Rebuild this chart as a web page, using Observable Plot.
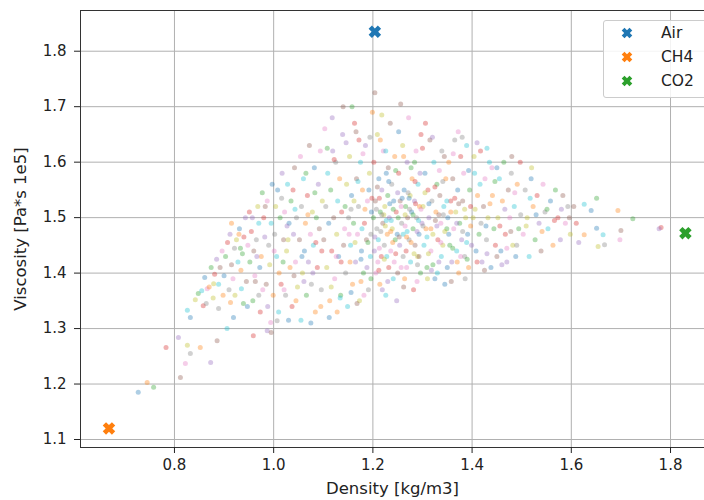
<!DOCTYPE html>
<html>
<head>
<meta charset="utf-8">
<script src="https://cdn.jsdelivr.net/npm/d3@7"></script>
<script src="https://cdn.jsdelivr.net/npm/@observablehq/plot@0.6"></script>
<style>
  html, body { margin: 0; padding: 0; background: #fff; }
  #wrap { position: relative; width: 704px; height: 500px; overflow: hidden; font-family: "DejaVu Sans", sans-serif; }
  #legend { position: absolute; left: 603px; top: 20px; width: 120px; height: 76px; border: 1px solid #cccccc; border-radius: 3px; background: rgba(255,255,255,0.85); font-size: 15.5px; color: #222; }
  .li { position: absolute; left: 0; height: 20px; line-height: 20px; }
  .li svg { position: absolute; left: 16px; top: 3px; }
  .li span { position: absolute; left: 57px; top: 0; white-space: nowrap; }
</style>
</head>
<body>
<div id="wrap"><div id="chart"></div>
<div id="legend"></div></div>
<script>
// Pure gases
const gasNames = ["Air", "CH4", "CO2"];
const gasDensity = [1.204, 0.668, 1.830];
const gasViscosity = [1.835, 1.120, 1.472];
const gasColors = ["#1f77b4", "#ff7f0e", "#2ca02c"];

// Mixture points [density, viscosity]
const mixtures = [
[0.727,1.185],[0.745,1.203],[0.758,1.194],[0.783,1.266],[0.808,1.284],[0.812,1.212],[0.822,1.237],[0.832,1.255],[0.826,1.27],[0.826,1.333],[0.832,1.32],[0.852,1.266],[0.848,1.363],[0.858,1.341],[0.873,1.239],[0.886,1.278],[0.866,1.372],[0.889,1.336],[0.879,1.381],[0.906,1.30],[0.919,1.32],[0.913,1.347],[0.939,1.345],[0.959,1.287],[0.987,1.296],[0.995,1.293],[0.994,1.311],[1.007,1.314],
[0.842,1.352],[0.855,1.368],[0.861,1.392],[0.87,1.375],[0.874,1.41],[0.881,1.398],[0.885,1.425],[0.892,1.41],[0.896,1.44],[0.864,1.345],[0.878,1.355],[0.889,1.38],[0.9,1.395],[0.898,1.36],
[0.903,1.43],[0.907,1.455],[0.912,1.47],[0.915,1.415],[0.918,1.39],[0.921,1.445],[0.925,1.46],[0.928,1.42],[0.931,1.48],[0.934,1.405],[0.937,1.435],[0.94,1.465],[0.943,1.5],[0.945,1.385],[0.948,1.45],[0.91,1.37],[0.922,1.36],[0.935,1.372],[0.947,1.34],[0.93,1.47],
[0.952,1.42],[0.955,1.475],[0.957,1.5],[0.96,1.44],[0.962,1.395],[0.965,1.46],[0.968,1.52],[0.97,1.49],[0.972,1.41],[0.975,1.43],[0.977,1.545],[0.98,1.5],[0.982,1.465],[0.985,1.38],[0.987,1.53],[0.99,1.45],[0.992,1.415],[0.995,1.49],[0.997,1.56],[0.999,1.36],[0.958,1.35],[0.973,1.33],[0.988,1.34],[0.963,1.385],[0.978,1.37],
[1.002,1.47],[1.004,1.52],[1.006,1.43],[1.008,1.55],[1.011,1.4],[1.013,1.5],[1.015,1.38],[1.017,1.58],[1.02,1.46],[1.022,1.51],[1.024,1.36],[1.026,1.44],[1.028,1.56],[1.031,1.49],[1.033,1.41],[1.035,1.53],[1.037,1.34],[1.04,1.47],[1.042,1.59],[1.044,1.42],[1.046,1.5],[1.048,1.375],[1.01,1.33],[1.03,1.315],[1.045,1.35],[1.019,1.42],[1.039,1.55],[1.027,1.485],
[1.052,1.46],[1.054,1.61],[1.056,1.52],[1.058,1.4],[1.06,1.57],[1.062,1.44],[1.064,1.49],[1.066,1.36],[1.068,1.54],[1.07,1.42],[1.072,1.63],[1.074,1.47],[1.076,1.38],[1.078,1.51],[1.08,1.45],[1.082,1.59],[1.084,1.33],[1.086,1.5],[1.088,1.41],[1.09,1.56],[1.092,1.48],[1.094,1.62],[1.096,1.37],[1.098,1.53],[1.055,1.315],[1.075,1.31],[1.095,1.34],[1.065,1.58],[1.085,1.455],[1.079,1.4],
[1.101,1.46],[1.103,1.66],[1.105,1.52],[1.107,1.41],[1.109,1.58],[1.111,1.49],[1.113,1.35],[1.115,1.55],[1.117,1.44],[1.119,1.62],[1.121,1.5],[1.123,1.39],[1.125,1.6],[1.127,1.47],[1.129,1.53],[1.131,1.43],[1.133,1.57],[1.135,1.36],[1.137,1.51],[1.139,1.65],[1.141,1.45],[1.143,1.48],[1.145,1.4],[1.147,1.56],[1.149,1.34],[1.112,1.32],[1.128,1.33],[1.144,1.52],[1.136,1.42],[1.118,1.68],[1.14,1.7],[1.126,1.43],
[1.151,1.5],[1.153,1.61],[1.155,1.45],[1.157,1.54],[1.159,1.38],[1.161,1.49],[1.163,1.67],[1.165,1.42],[1.167,1.57],[1.169,1.47],[1.171,1.52],[1.173,1.35],[1.175,1.6],[1.177,1.44],[1.179,1.55],[1.181,1.4],[1.183,1.49],[1.185,1.63],[1.187,1.46],[1.189,1.53],[1.191,1.37],[1.193,1.58],[1.195,1.43],[1.197,1.51],[1.199,1.69],[1.158,1.7],[1.172,1.64],[1.188,1.41],[1.168,1.345],[1.182,1.36],[1.196,1.47],[1.162,1.53],[1.178,1.48],[1.192,1.55],[1.154,1.42],
[1.201,1.5],[1.202,1.6],[1.203,1.44],[1.205,1.53],[1.206,1.4],[1.208,1.48],[1.209,1.65],[1.211,1.46],[1.212,1.57],[1.214,1.38],[1.215,1.51],[1.217,1.43],[1.218,1.55],[1.22,1.49],[1.221,1.62],[1.223,1.45],[1.224,1.52],[1.226,1.36],[1.227,1.58],[1.229,1.47],[1.23,1.54],[1.232,1.41],[1.233,1.5],[1.235,1.67],[1.236,1.44],[1.238,1.56],[1.239,1.48],[1.241,1.39],[1.242,1.53],[1.244,1.61],[1.245,1.46],[1.247,1.51],[1.248,1.35],[1.204,1.725],[1.21,1.42],[1.216,1.475],[1.222,1.505],[1.228,1.43],[1.234,1.525],[1.24,1.455],[1.246,1.585],[1.213,1.535],[1.219,1.37],[1.231,1.59],[1.243,1.42],[1.207,1.515],[1.225,1.485],[1.237,1.495],[1.249,1.47],[1.215,1.64],
[1.251,1.5],[1.252,1.58],[1.254,1.45],[1.255,1.53],[1.257,1.41],[1.258,1.49],[1.26,1.63],[1.261,1.47],[1.263,1.55],[1.264,1.39],[1.266,1.52],[1.267,1.44],[1.269,1.6],[1.27,1.5],[1.272,1.68],[1.273,1.46],[1.275,1.54],[1.276,1.42],[1.278,1.51],[1.279,1.57],[1.281,1.48],[1.282,1.37],[1.284,1.53],[1.285,1.45],[1.287,1.62],[1.288,1.5],[1.29,1.43],[1.291,1.56],[1.293,1.47],[1.294,1.52],[1.296,1.4],[1.297,1.65],[1.299,1.49],[1.256,1.705],[1.265,1.485],[1.274,1.515],[1.283,1.435],[1.292,1.495],[1.259,1.535],[1.268,1.465],[1.277,1.59],[1.286,1.525],[1.295,1.58],[1.262,1.375],[1.289,1.385],[1.271,1.545],
[1.301,1.52],[1.303,1.45],[1.305,1.58],[1.307,1.48],[1.309,1.41],[1.311,1.55],[1.313,1.5],[1.315,1.64],[1.317,1.44],[1.319,1.53],[1.321,1.47],[1.323,1.6],[1.325,1.39],[1.327,1.51],[1.329,1.56],[1.331,1.46],[1.333,1.42],[1.335,1.54],[1.337,1.49],[1.339,1.62],[1.341,1.45],[1.343,1.52],[1.345,1.38],[1.347,1.57],[1.349,1.48],[1.306,1.67],[1.318,1.405],[1.326,1.495],[1.334,1.585],[1.342,1.505],[1.312,1.435],[1.338,1.43],
[1.351,1.5],[1.353,1.6],[1.355,1.45],[1.357,1.53],[1.359,1.42],[1.361,1.57],[1.363,1.48],[1.365,1.64],[1.367,1.51],[1.369,1.44],[1.371,1.55],[1.373,1.4],[1.375,1.49],[1.377,1.61],[1.379,1.46],[1.381,1.53],[1.383,1.58],[1.385,1.43],[1.387,1.5],[1.389,1.63],[1.391,1.47],[1.393,1.41],[1.395,1.55],[1.397,1.52],[1.399,1.45],[1.358,1.385],[1.372,1.655],[1.386,1.39],
[1.402,1.5],[1.405,1.58],[1.408,1.44],[1.411,1.54],[1.414,1.47],[1.417,1.62],[1.42,1.42],[1.423,1.52],[1.426,1.57],[1.429,1.46],[1.432,1.5],[1.435,1.6],[1.438,1.41],[1.441,1.54],[1.444,1.48],[1.447,1.45],[1.41,1.635],[1.425,1.405],[1.44,1.59],[1.418,1.49],
[1.452,1.5],[1.455,1.57],[1.458,1.44],[1.461,1.53],[1.464,1.6],[1.467,1.47],[1.47,1.42],[1.473,1.55],[1.476,1.5],[1.479,1.58],[1.482,1.45],[1.485,1.52],[1.488,1.43],[1.491,1.56],[1.494,1.48],[1.497,1.6],[1.46,1.415],[1.48,1.61],
[1.503,1.47],[1.507,1.55],[1.511,1.5],[1.515,1.43],[1.519,1.57],[1.523,1.52],[1.527,1.46],[1.531,1.54],[1.535,1.49],[1.539,1.44],[1.543,1.56],[1.547,1.51],[1.52,1.59],
[1.553,1.48],[1.558,1.53],[1.563,1.45],[1.568,1.55],[1.573,1.5],[1.578,1.46],[1.583,1.54],[1.588,1.49],[1.593,1.52],[1.598,1.47],
[1.626,1.524],[1.64,1.513],[1.694,1.513],[1.724,1.498],[1.781,1.482],[1.777,1.48],[1.70,1.477],[1.698,1.46],[1.667,1.451],[1.654,1.448],[1.664,1.469],[1.651,1.481],[1.626,1.469],[1.651,1.535],[1.61,1.49],[1.615,1.455],[1.605,1.52],
[1.152,1.47],[1.156,1.515],[1.164,1.455],[1.17,1.565],[1.176,1.425],[1.184,1.515],[1.19,1.455],[1.198,1.535],[1.204,1.465],[1.209,1.555],[1.213,1.445],[1.218,1.505],[1.223,1.425],[1.227,1.495],[1.232,1.565],[1.236,1.475],[1.241,1.515],[1.246,1.435],[1.25,1.545],[1.253,1.465],[1.257,1.52],[1.261,1.43],[1.265,1.505],[1.269,1.475],[1.273,1.535],[1.277,1.455],[1.281,1.505],[1.285,1.565],[1.289,1.475],[1.293,1.43],[1.297,1.515],[1.301,1.485],[1.305,1.545],[1.309,1.465],[1.313,1.525],[1.317,1.48],[1.321,1.415],[1.325,1.555],[1.329,1.485],[1.333,1.505],[1.337,1.455],[1.341,1.565],[1.345,1.475],[1.349,1.53],[1.353,1.47],[1.357,1.51],[1.361,1.445],[1.365,1.535],[1.369,1.49],[1.373,1.525],[1.377,1.43],[1.381,1.475],[1.385,1.515],[1.389,1.455],[1.393,1.585],[1.397,1.485],
[1.108,1.625],[1.122,1.605],[1.146,1.635],[1.166,1.655],[1.18,1.615],[1.194,1.645],[1.218,1.685],[1.226,1.62],[1.252,1.655],[1.262,1.61],[1.284,1.6],[1.3,1.625],[1.32,1.645],[1.344,1.61],[1.362,1.615],[1.38,1.645],[1.404,1.61],[1.43,1.625],[1.45,1.59],
[0.915,1.49],[0.933,1.445],[0.951,1.51],[0.966,1.43],[0.983,1.52],[1.001,1.44],[1.016,1.535],[1.029,1.46],[1.043,1.515],[1.057,1.43],[1.069,1.505],[1.083,1.545],[1.097,1.44],[1.061,1.385],[1.041,1.395],[1.021,1.37],[0.97,1.36],
[1.116,1.375],[1.134,1.355],[1.156,1.365],[1.176,1.385],[1.196,1.39],[1.212,1.405],[1.23,1.385],[1.25,1.4],[1.268,1.41],[1.29,1.415],[1.31,1.39],[1.33,1.4],[1.35,1.41],[1.37,1.42],[1.39,1.425],[1.41,1.42],[1.43,1.435],[1.45,1.43],[1.47,1.445],[1.49,1.45],
[1.406,1.515],[1.416,1.56],[1.428,1.485],[1.436,1.525],[1.446,1.565],[1.456,1.485],[1.466,1.515],[1.478,1.475],[1.486,1.545],[1.498,1.505],[1.509,1.485],[1.517,1.535],[1.529,1.505],[1.541,1.475],[1.551,1.515],[1.566,1.495],[1.58,1.515],[1.596,1.5]
];

const xTicks = [0.8, 1.0, 1.2, 1.4, 1.6, 1.8];
const yTicks = [1.1, 1.2, 1.3, 1.4, 1.5, 1.6, 1.7, 1.8];

const tab10 = ["#1f77b4","#ff7f0e","#2ca02c","#d62728","#9467bd","#8c564b","#e377c2","#7f7f7f","#bcbd22","#17becf"];

// filled "X" marker like matplotlib's 'X'
const xMarker = {
  draw(ctx, size) {
    const r = Math.sqrt(size / Math.PI);
    const w = r * 0.36;
    const pts = [[w,r],[w,w],[r,w],[r,-w],[w,-w],[w,-r],[-w,-r],[-w,-w],[-r,-w],[-r,w],[-w,w],[-w,r]];
    const c = Math.SQRT1_2;
    pts.forEach(([a,b], i) => {
      const x = (a - b) * c, y = (a + b) * c;
      if (i === 0) ctx.moveTo(x, y); else ctx.lineTo(x, y);
    });
    ctx.closePath();
  }
};

const gases = gasNames.map((n, i) => ({name: n, density: gasDensity[i], viscosity: gasViscosity[i], color: gasColors[i]}));

const chart = Plot.plot({
  width: 704,
  height: 500,
  marginLeft: 80,
  marginRight: 0,
  marginTop: 10,
  marginBottom: 53,
  style: {fontFamily: "DejaVu Sans, sans-serif", fontSize: "15px", color: "#222", background: "#fff"},
  x: {domain: [0.6106, 1.8685]},
  y: {domain: [1.0856, 1.8734]},
  marks: [
    Plot.gridX(xTicks, {stroke: "#b0b0b0", strokeOpacity: 1, strokeWidth: 1}),
    Plot.gridY(yTicks, {stroke: "#b0b0b0", strokeOpacity: 1, strokeWidth: 1}),
    Plot.dot(mixtures, {x: d => d[0], y: d => d[1], r: 2.5, fill: (d, i) => tab10[i % 10], fillOpacity: 0.36, stroke: "none"}),
    Plot.dot(gases, {x: "density", y: "viscosity", fill: "color", symbol: xMarker, r: 6.5, stroke: "none"}),
    Plot.frame({stroke: "#333", strokeWidth: 1}),
    Plot.axisX(xTicks, {tickFormat: d => d.toFixed(1), tickSize: 6, tickPadding: 6, fontSize: 15, label: null}),
    Plot.axisY(yTicks, {tickFormat: d => d.toFixed(1), tickSize: 6, tickPadding: 8, fontSize: 15, label: null}),
    Plot.text(["Density [kg/m3]"], {frameAnchor: "bottom", dy: 41, fontSize: 16.5, lineAnchor: "middle", fill: "#222"}),
    Plot.text(["Viscosity [Pa*s 1e5]"], {frameAnchor: "left", dx: -60, rotate: -90, fontSize: 16.5, textAnchor: "middle", lineAnchor: "middle", fill: "#222"})
  ]
});
document.getElementById("chart").appendChild(chart);

// legend
const legend = document.getElementById("legend");
gases.forEach((g, i) => {
  const row = document.createElement("div");
  row.className = "li";
  row.style.top = (2 + i * 24) + "px";
  const path = d3.path();
  xMarker.draw(path, Math.PI * 5.5 * 5.5);
  row.innerHTML = `<svg width="14" height="14" viewBox="-7 -7 14 14"><path d="${path.toString()}" fill="${g.color}"/></svg><span>${g.name}</span>`;
  legend.appendChild(row);
});
</script>
</body>
</html>
